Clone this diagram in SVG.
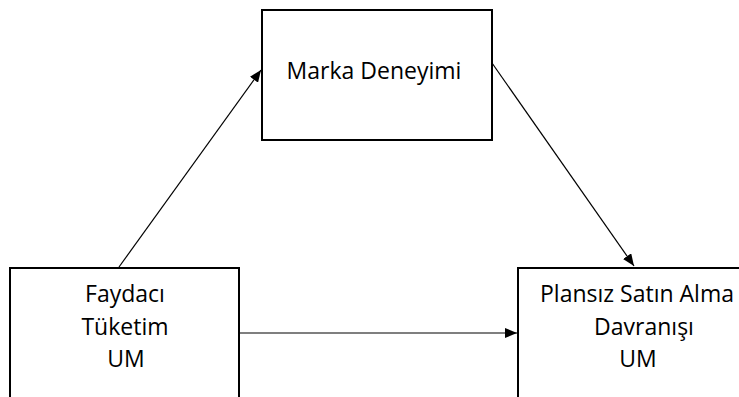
<svg xmlns="http://www.w3.org/2000/svg" width="739" height="397" viewBox="0 0 739 397">
<style>
.box{fill:#fff;stroke:#000;stroke-width:2}
.t{font-family:"Open Sans","Liberation Sans",sans-serif;font-size:23px;fill:#000;text-anchor:middle}
.c{stroke:#000;stroke-width:1.2;fill:none}
</style>
<defs>
<marker id="ah" viewBox="0 0 12 10" refX="12" refY="5" markerWidth="12" markerHeight="10" markerUnits="userSpaceOnUse" orient="auto">
<path d="M0,0 L12,5 L0,10 Z" fill="#000"/>
</marker>
</defs>
<rect width="739" height="397" fill="#fff"/>
<g id="node-marka">
<rect class="box" x="262" y="10" width="230" height="130"/>
<text class="t" x="374" y="79">Marka Deneyimi</text>
</g>
<g id="node-faydaci">
<rect class="box" x="10" y="268" width="229" height="140"/>
<text class="t" x="125" y="302">Faydacı</text>
<text class="t" x="125" y="335">Tüketim</text>
<text class="t" x="126" y="367">UM</text>
</g>
<g id="node-plansiz">
<rect class="box" x="518" y="268" width="240" height="140"/>
<text class="t" x="637" y="302">Plansız Satın Alma</text>
<text class="t" x="644" y="335">Davranışı</text>
<text class="t" x="638" y="367">UM</text>
</g>
<g id="connectors">
<line class="c" x1="119" y1="267" x2="261" y2="70" marker-end="url(#ah)"/>
<line class="c" x1="492" y1="63" x2="634" y2="266" marker-end="url(#ah)"/>
<line class="c" x1="239" y1="333" x2="517" y2="333" marker-end="url(#ah)"/>
</g>
</svg>
